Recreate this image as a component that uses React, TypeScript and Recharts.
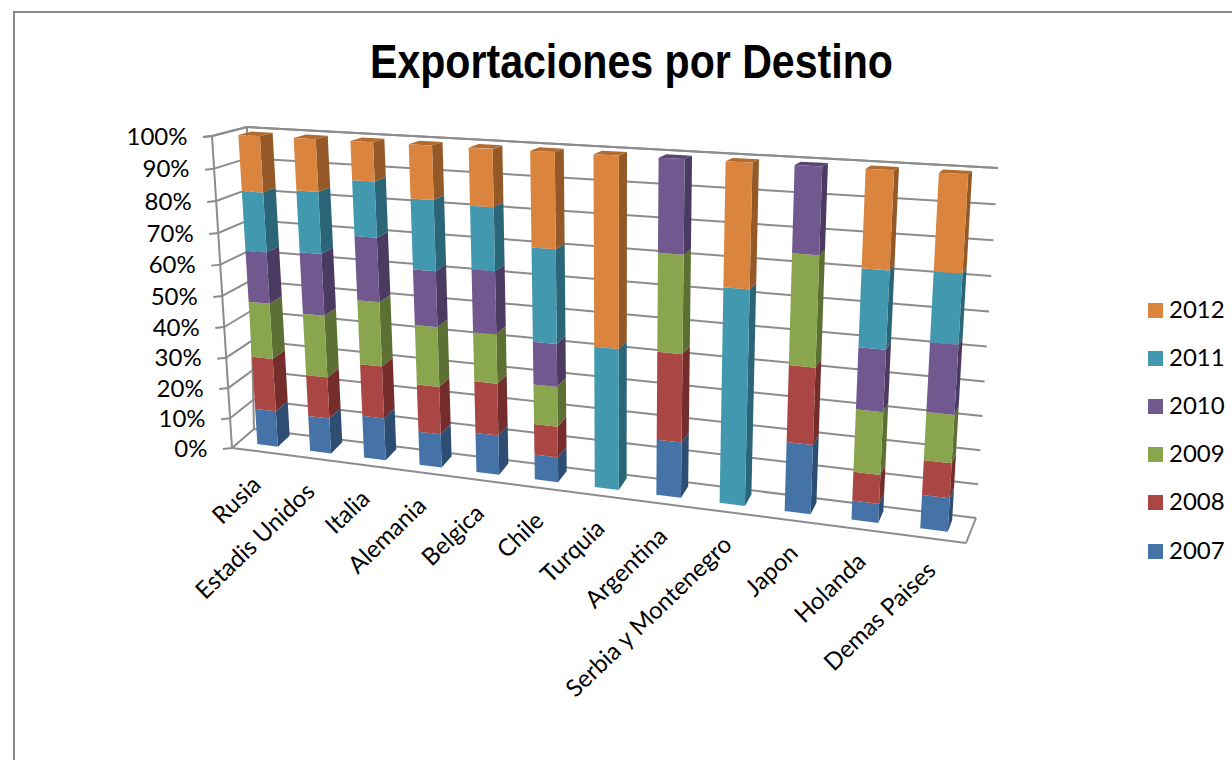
import { Bar, BarChart, CartesianGrid, Legend, ReferenceArea, XAxis, YAxis } from 'recharts'

const categories = [
  'Rusia',
  'Estadis Unidos',
  'Italia',
  'Alemania',
  'Belgica',
  'Chile',
  'Turquia',
  'Argentina',
  'Serbia y Montenegro',
  'Japon',
  'Holanda',
  'Demas Paises',
]
const v2007 = [11.9, 11.6, 13.8, 10.8, 12.6, 7.9, 0, 17.1, 0, 20.9, 5.7, 9.9]
const v2008 = [17.4, 13.5, 16.8, 15.2, 16.4, 9.7, 0, 26.7, 0, 22.7, 8.6, 10.2]
const v2009 = [18, 20, 20.4, 18.9, 15.4, 12.4, 0, 29.1, 0, 32, 18.4, 13.9]
const v2010 = [16.4, 19.6, 20.1, 17.3, 19.3, 13.2, 0, 27.1, 0, 24.4, 17.9, 19.8]
const v2011 = [18.9, 19.2, 17.1, 21.6, 19.1, 28.5, 43.5, 0, 64.4, 0, 22.2, 19.6]
const v2012 = [17.4, 16.1, 11.8, 16.2, 17.1, 28.3, 56.5, 0, 35.6, 0, 27.2, 26.6]
const yTicks = [0, 10, 20, 30, 40, 50, 60, 70, 80, 90, 100]

const data = categories.map((name, i) => ({
  name,
  y2007: v2007[i],
  y2008: v2008[i],
  y2009: v2009[i],
  y2010: v2010[i],
  y2011: v2011[i],
  y2012: v2012[i],
}))

// the flat plot rectangle recharts lays out, before it is tilted
const PLOT = { left: 232, right: 966, top: 136, bottom: 448 }
const BAR_SIZE = 24
const BAND = (PLOT.right - PLOT.left) / categories.length
const BAR_LEFT = PLOT.left + BAND / 2 - BAR_SIZE / 2
const BAR_RIGHT = PLOT.right - BAND / 2 + BAR_SIZE / 2
const GRID = '#8c8c8c'

type Pt = [number, number]

// unit square -> quad, corners are (0,0) (1,0) (1,1) (0,1)
function makeProjection(p0: Pt, p1: Pt, p2: Pt, p3: Pt) {
  const dx1 = p1[0] - p2[0]
  const dx2 = p3[0] - p2[0]
  const sx = p0[0] - p1[0] + p2[0] - p3[0]
  const dy1 = p1[1] - p2[1]
  const dy2 = p3[1] - p2[1]
  const sy = p0[1] - p1[1] + p2[1] - p3[1]
  const den = dx1 * dy2 - dx2 * dy1
  const g = (sx * dy2 - dx2 * sy) / den
  const h = (dx1 * sy - sx * dy1) / den
  const a = p1[0] - p0[0] + g * p1[0]
  const b = p3[0] - p0[0] + h * p3[0]
  const d = p1[1] - p0[1] + g * p1[1]
  const e = p3[1] - p0[1] + h * p3[1]
  return (u: number, v: number): Pt => {
    const w = g * u + h * v + 1
    return [(a * u + b * v + p0[0]) / w, (d * u + e * v + p0[1]) / w]
  }
}

const barFront = makeProjection([257, 444], [947.3, 531.7], [967.7, 174.3], [238, 135])
const barBack = makeProjection([269, 433], [951.7, 520], [971.7, 171], [251, 131.5])
const wallBack = makeProjection([254, 429], [976, 518], [998, 168], [247, 127])
const wallFront = makeProjection([232, 448], [966, 543], [987, 190], [212, 136])

const barU = (x: number) => (x - BAR_LEFT) / (BAR_RIGHT - BAR_LEFT)
const plotV = (y: number) => (PLOT.bottom - y) / (PLOT.bottom - PLOT.top)
const pts = (list: Pt[]) => list.map((p) => p.join(',')).join(' ')

function barShape(sideColor: string, topColor: string) {
  return function Bar3D(props: any) {
    const { x, y, width, height, fill } = props
    if (!height) return <g />
    const u0 = barU(x)
    const u1 = barU(x + width)
    const v0 = plotV(y + height)
    const v1 = plotV(y)
    return (
      <g>
        <polygon
          points={pts([barFront(u1, v0), barBack(u1, v0), barBack(u1, v1), barFront(u1, v1)])}
          fill={sideColor}
        />
        {y <= PLOT.top + 0.5 && (
          <polygon
            points={pts([barFront(u0, 1), barFront(u1, 1), barBack(u1, 1), barBack(u0, 1)])}
            fill={topColor}
          />
        )}
        <polygon
          points={pts([barFront(u0, v0), barFront(u1, v0), barFront(u1, v1), barFront(u0, v1)])}
          fill={fill}
        />
      </g>
    )
  }
}

function seg(a: Pt, b: Pt, key?: string) {
  return <line key={key} x1={a[0]} y1={a[1]} x2={b[0]} y2={b[1]} stroke={GRID} strokeWidth={2} />
}

function GridLine(props: any) {
  const v = plotV(props.y1)
  const front = wallFront(0, v)
  return (
    <g key={props.key}>
      {seg(wallBack(0, v), wallBack(1, v))}
      {seg(front, wallBack(0, v))}
      {seg([front[0] - 9, front[1] + 1], front)}
    </g>
  )
}

function FloorFrame() {
  return (
    <g>
      {seg(wallFront(0, 0), wallFront(0, 1))}
      {seg(wallBack(0, 1), wallBack(0, 0))}
      {seg(wallFront(0, 0), wallFront(1, 0))}
      {seg(wallFront(1, 0), wallBack(1, 0))}
    </g>
  )
}

function YTick(props: any) {
  const p = wallFront(0, plotV(props.y))
  return (
    <text x={p[0] - 24.5} y={p[1]} dy="0.36em" textAnchor="end" fontSize={24} fontFamily="Lato" fill="#000">
      {props.payload.value}%
    </text>
  )
}

function XTick(props: any) {
  const u = barU(props.x)
  const p = barFront(u, 0)
  const x = p[0] - 11 + 9 * u
  const y = p[1] + 35 + u
  return (
    <text
      x={x}
      y={y}
      dy="0.36em"
      textAnchor="end"
      fontSize={24}
      fontFamily="Lato"
      fill="#000"
      transform={`rotate(-44 ${x} ${y})`}
    >
      {props.payload.value}
    </text>
  )
}

function LegendList(props: any) {
  const items = [...(props.payload ?? [])].reverse()
  return (
    <div>
      {items.map((item: any) => (
        <div
          key={item.value}
          style={{ display: 'flex', alignItems: 'center', height: 48.2, fontFamily: 'Lato', fontSize: 24, color: '#000' }}
        >
          <span style={{ width: 15, height: 15, background: item.color, marginRight: 6 }} />
          <span style={{ position: 'relative', top: -2 }}>{item.value}</span>
        </div>
      ))}
    </div>
  )
}

export default function App() {
  return (
    <div style={{ position: 'absolute', left: 0, top: 0, width: 1232, height: 760, overflow: 'hidden', background: '#fff' }}>
      <div
        style={{
          position: 'absolute',
          left: 13,
          top: 11,
          width: 1300,
          height: 900,
          border: '2px solid #8c8c8c',
        }}
      />
      <div
        style={{
          position: 'absolute',
          left: 370,
          top: 32,
          whiteSpace: 'nowrap',
          fontFamily: '"Liberation Sans"',
          fontWeight: 700,
          fontSize: 48,
          lineHeight: '60px',
          transform: 'scaleX(0.856)',
          transformOrigin: 'left center',
        }}
      >
        Exportaciones por Destino
      </div>
      <BarChart
        width={1232}
        height={760}
        data={data}
        barCategoryGap="60%"
        barSize={BAR_SIZE}
        margin={{ top: PLOT.top, left: PLOT.left - 100, right: 1232 - PLOT.right, bottom: 760 - PLOT.bottom - 60 }}
        style={{ position: 'absolute', left: 0, top: 0 }}
      >
        <CartesianGrid horizontal={GridLine} vertical={false} />
        <ReferenceArea y1={0} y2={100} shape={FloorFrame} />
        <XAxis dataKey="name" height={60} interval={0} axisLine={false} tickLine={false} tick={XTick} />
        <YAxis width={100} domain={[0, 100]} ticks={yTicks} axisLine={false} tickLine={false} tick={YTick} />
        <Legend
          layout="vertical"
          align="center"
          verticalAlign="middle"
          content={LegendList}
          wrapperStyle={{ left: 1148, top: 286, width: 84 }}
        />
        <Bar dataKey="y2007" name="2007" stackId="a" fill="#4572A7" isAnimationActive={false} shape={barShape('#2E4D72', '#37597F')} />
        <Bar dataKey="y2008" name="2008" stackId="a" fill="#AA4643" isAnimationActive={false} shape={barShape('#742D2B', '#8A3835')} />
        <Bar dataKey="y2009" name="2009" stackId="a" fill="#89A54E" isAnimationActive={false} shape={barShape('#5D7033', '#6E853E')} />
        <Bar dataKey="y2010" name="2010" stackId="a" fill="#71588F" isAnimationActive={false} shape={barShape('#4B3A61', '#5A4673')} />
        <Bar dataKey="y2011" name="2011" stackId="a" fill="#4198AF" isAnimationActive={false} shape={barShape('#2A6678', '#347A8D')} />
        <Bar dataKey="y2012" name="2012" stackId="a" fill="#DB843D" isAnimationActive={false} shape={barShape('#955927', '#B26A2F')} />
      </BarChart>
    </div>
  )
}
